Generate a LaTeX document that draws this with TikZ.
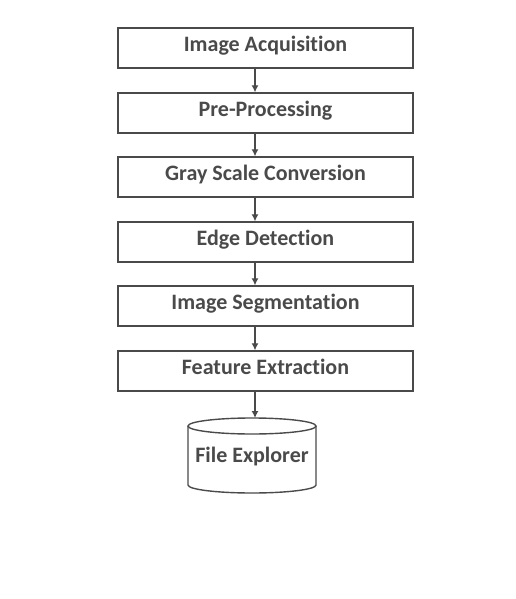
\documentclass[tikz,border=0pt]{standalone}
\usepackage{fontspec}
\setmainfont{Carlito}[Ligatures=NoCommon]
\usetikzlibrary{arrows.meta}
\definecolor{lineg}{HTML}{4A4A4A}
\definecolor{textg}{HTML}{4A4A4A}
\tikzset{
  lbl/.style={text=textg, font=\fontsize{22}{24}\selectfont\bfseries},
  procbox/.style={draw=lineg, line width=1.4pt, minimum width=295pt, minimum height=40pt, inner sep=0pt, lbl},
  flow/.style={draw=lineg, line width=1.2pt, -{Latex[length=7pt,width=7pt]}},
}
\begin{document}
\begin{tikzpicture}[x=1pt,y=-1pt]
\useasboundingbox (0,0) rectangle (515,599);
\node[procbox] (b1) at (265.5,48) {\raisebox{8pt}{Image Acquisition}};
\node[procbox] (b2) at (265.5,113) {\raisebox{8pt}{Pre-Processing}};
\node[procbox] (b3) at (265.5,177) {\raisebox{8pt}{Gray Scale Conversion}};
\node[procbox] (b4) at (265.5,242) {\raisebox{8pt}{Edge Detection}};
\node[procbox] (b5) at (265.5,306) {\raisebox{8pt}{Image Segmentation}};
\node[procbox] (b6) at (265.5,371) {\raisebox{8pt}{Feature Extraction}};
% cylinder
\draw[lineg, line width=1.4pt, fill=white] (188,426) -- (188,485) arc[start angle=180, end angle=0, x radius=64, y radius=8] -- (316,426);
\draw[lineg, line width=1.4pt] (252,426) ellipse[x radius=64, y radius=8];
\node[lbl] (fe) at (252,457) {File Explorer};
\coordinate (fetop) at (255,418);
\draw[flow] (b1.south -| 255,0) -- (b2.north -| 255,0);
\draw[flow] (b2.south -| 255,0) -- (b3.north -| 255,0);
\draw[flow] (b3.south -| 255,0) -- (b4.north -| 255,0);
\draw[flow] (b4.south -| 255,0) -- (b5.north -| 255,0);
\draw[flow] (b5.south -| 255,0) -- (b6.north -| 255,0);
\draw[flow] (b6.south -| 255,0) -- (fetop);
\end{tikzpicture}
\end{document}
